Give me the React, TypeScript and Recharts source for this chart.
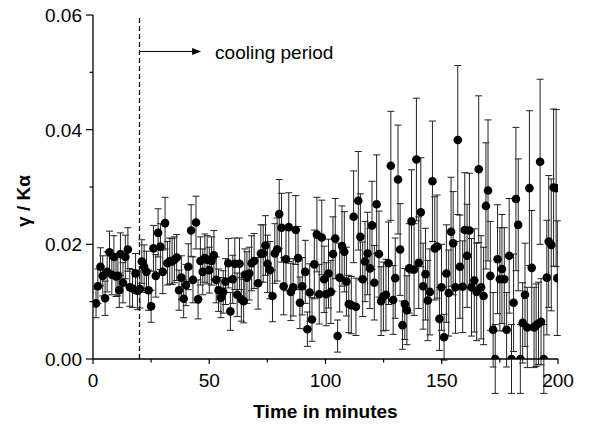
import React from 'react';
import { ScatterChart, Scatter, XAxis, YAxis, ErrorBar, ReferenceLine, ReferenceDot } from 'recharts';

const times = [
  1.3, 2.1, 3.2, 4.2, 5.2, 6.1, 7.1, 8.1, 9.0, 9.9, 10.7, 11.3, 11.8, 12.9, 13.9, 15, 15.8, 17, 18.3, 19.1,
  20.2, 21, 22, 23, 23.9, 25, 26, 27, 28, 29, 30, 31, 32, 33, 34, 35, 36, 37, 38, 39,
  40, 41, 42.2, 43, 44.3, 45.2, 46.2, 47.2, 48.1, 49.1, 50, 51, 52, 53, 54, 55, 56, 57, 58.2, 59.1,
  60.1, 61, 62, 63, 63.8, 64.8, 65.3, 66.2, 67.2, 68.2, 69.3, 71, 72.2, 73.2, 74.2, 75.1, 76.1, 77.2, 78.2, 79.2,
  80.1, 81.1, 82, 83, 84.2, 85.1, 86.1, 87.2, 88.2, 89, 90, 91.3, 92.2, 93.2, 94.2, 95.2, 96.3, 97.3, 98.4, 99.4,
  100.3, 101.3, 102.3, 103.2, 104.2, 105.2, 106.1, 107.1, 108.1, 109, 110, 111.1, 112.1, 113.1, 114.1, 115, 116, 117, 118.1, 119.1,
  120, 121, 122, 123, 123.9, 124.9, 126, 127.1, 128.1, 129.1, 130, 131.2, 132.1, 133.1, 134.1, 135, 136, 137, 138.1, 139.1,
  140.1, 141, 142, 143, 144, 144.9, 146, 147, 148, 149, 149.9, 151, 152, 153, 154, 154.9, 155.9, 156.9, 157.8, 159,
  159.9, 160.9, 161.9, 162.8, 164, 165, 165.9, 166.9, 168, 169, 169.9, 170.9, 172.1, 173, 174, 175, 175.9, 176.9, 177.9, 179,
  180, 180.9, 181.9, 182.9, 183.8, 184.8, 185.8, 186.8, 187.7, 188.7, 189.7, 190.6, 191.6, 192.3, 192.7, 193.9, 195.2, 196, 197.1, 198.1,
  199.2, 199.7,
];

const values = [
  0.0097, 0.0127, 0.0161, 0.0145, 0.0106, 0.0152, 0.0186, 0.0147, 0.0178, 0.0144, 0.0145, 0.012, 0.0183, 0.0133, 0.0178, 0.0191, 0.0125, 0.0123, 0.0149, 0.0119,
  0.0122, 0.017, 0.0161, 0.0152, 0.012, 0.0092, 0.0193, 0.0145, 0.022, 0.0196, 0.0152, 0.0237, 0.0167, 0.0171, 0.017, 0.0173, 0.0177, 0.012, 0.0142, 0.0105,
  0.0129, 0.0161, 0.0224, 0.0138, 0.0238, 0.0104, 0.0171, 0.0152, 0.0176, 0.0173, 0.0155, 0.0171, 0.0181, 0.0138, 0.012, 0.0107, 0.0117, 0.0135, 0.0167, 0.0083,
  0.0139, 0.0166, 0.0112, 0.0166, 0.0104, 0.0101, 0.0147, 0.0142, 0.0149, 0.0167, 0.0171, 0.0132, 0.0184, 0.0184, 0.0198, 0.0166, 0.0155, 0.011, 0.0184, 0.0191,
  0.0253, 0.0229, 0.0127, 0.0174, 0.023, 0.0117, 0.0125, 0.0225, 0.0176, 0.0098, 0.0127, 0.0152, 0.0052, 0.0116, 0.0069, 0.0165, 0.0217, 0.0113, 0.0212, 0.0139,
  0.0113, 0.0149, 0.0117, 0.0183, 0.021, 0.004, 0.0142, 0.0197, 0.0187, 0.0135, 0.0096, 0.0094, 0.0248, 0.0091, 0.0276, 0.0213, 0.0139, 0.017, 0.0184, 0.0158,
  0.0233, 0.0133, 0.027, 0.0183, 0.0101, 0.0109, 0.0112, 0.0167, 0.0337, 0.0103, 0.0141, 0.0313, 0.0191, 0.0059, 0.0096, 0.0085, 0.0158, 0.024, 0.0156, 0.0348,
  0.0168, 0.0256, 0.0127, 0.0148, 0.0102, 0.0117, 0.031, 0.0193, 0.0196, 0.007, 0.0125, 0.0038, 0.0149, 0.0115, 0.0222, 0.0202, 0.0125, 0.0382, 0.0161, 0.0126,
  0.0225, 0.018, 0.0224, 0.0125, 0.0137, 0.0117, 0.0331, 0.0125, 0.011, 0.0267, 0.0294, 0.0145, 0.0051, 0.0, 0.0174, 0.0139, 0.0157, 0.0139, 0.0051, 0.018,
  0.0, 0.0098, 0.0279, 0.0234, 0.0, 0.0063, 0.0112, 0.0055, 0.0298, 0.0159, 0.0055, 0.0059, 0.0062, 0.0344, 0.0065, 0.0, 0.0142, 0.0205, 0.0199, 0.0299,
  0.0298, 0.0141,
];

const errors = [
  0.0025, 0.003, 0.0033, 0.0035, 0.003, 0.0035, 0.0037, 0.0035, 0.0037, 0.0035, 0.0035, 0.003, 0.0037, 0.0035, 0.0038, 0.0038, 0.0033, 0.0033, 0.0035, 0.0033,
  0.0033, 0.0038, 0.0038, 0.0036, 0.0035, 0.0028, 0.004, 0.0037, 0.0042, 0.004, 0.0038, 0.0045, 0.0038, 0.004, 0.004, 0.004, 0.004, 0.0035, 0.0038, 0.0033,
  0.0036, 0.004, 0.0045, 0.004, 0.0046, 0.0034, 0.0042, 0.004, 0.0042, 0.0042, 0.004, 0.0042, 0.0043, 0.004, 0.0037, 0.0035, 0.0037, 0.004, 0.0043, 0.0033,
  0.0042, 0.0045, 0.0038, 0.0045, 0.0038, 0.0038, 0.0045, 0.0045, 0.0046, 0.0048, 0.0048, 0.0045, 0.005, 0.005, 0.0052, 0.005, 0.005, 0.0045, 0.0052, 0.0055,
  0.006, 0.006, 0.005, 0.0055, 0.006, 0.005, 0.005, 0.006, 0.0055, 0.0045, 0.005, 0.0055, 0.003, 0.005, 0.0038, 0.006, 0.0065, 0.0052, 0.0065, 0.0058,
  0.0055, 0.006, 0.0055, 0.0065, 0.007, 0.0028, 0.006, 0.007, 0.007, 0.006, 0.005, 0.005, 0.008, 0.005, 0.0086, 0.0075, 0.0065, 0.007, 0.0072, 0.007,
  0.0077, 0.0065, 0.0086, 0.0075, 0.006, 0.006, 0.0062, 0.0072, 0.0095, 0.006, 0.007, 0.0095, 0.008, 0.0042, 0.0062, 0.006, 0.0078, 0.009, 0.008, 0.0107,
  0.008, 0.0095, 0.0075, 0.008, 0.007, 0.0075, 0.0105, 0.009, 0.009, 0.0055, 0.0075, 0.004, 0.0085, 0.0075, 0.0095, 0.009, 0.008, 0.013, 0.009, 0.008,
  0.01, 0.009, 0.01, 0.0085, 0.009, 0.0085, 0.0128, 0.009, 0.0085, 0.011, 0.0123, 0.0095, 0.0065, 0.006, 0.0095, 0.009, 0.0095, 0.009, 0.0065, 0.01,
  0.006, 0.0085, 0.0125, 0.0115, 0.006, 0.007, 0.009, 0.007, 0.0135, 0.01, 0.007, 0.0072, 0.0072, 0.0144, 0.0075, 0.006, 0.01, 0.0115, 0.0115, 0.0137,
  0.0137, 0.01,
];

const xTicks = [0, 25, 50, 75, 100, 125, 150, 175, 200];
const xMajor = [0, 50, 100, 150, 200];
const yTicks = [0, 0.01, 0.02, 0.03, 0.04, 0.05, 0.06];
const yMajor = [0, 0.02, 0.04, 0.06];

const xLabel = 'Time in minutes';
const yLabel = 'γ / Kα';
const noteText = 'cooling period';
const coolingStart = 20;

const data = times.map((t, i) => ({ t, v: values[i], e: errors[i] }));

const FONT = '"Liberation Sans", Arial, Helvetica, sans-serif';
const isMajor = (list: number[], v: number) => list.some((m) => Math.abs(m - v) < 1e-9);

const BottomTick = (props: any) => {
  const { x, y, payload } = props;
  const major = isMajor(xMajor, payload.value);
  return (
    <g>
      <line x1={x} y1={y} x2={x} y2={y + (major ? 5 : 3.5)} stroke="#000" strokeWidth={1.2} />
      {major && (
        <text x={x} y={y + 28} textAnchor="middle" fontSize={19} fontFamily={FONT} fill="#000">
          {payload.value}
        </text>
      )}
    </g>
  );
};

const TopTick = (props: any) => {
  const { x, y, payload } = props;
  const major = isMajor(xMajor, payload.value);
  return <line x1={x} y1={y} x2={x} y2={y + (major ? 5 : 3.5)} stroke="#000" strokeWidth={1.2} />;
};

const LeftTick = (props: any) => {
  const { x, y, payload } = props;
  const major = isMajor(yMajor, payload.value);
  return (
    <g>
      <line x1={x} y1={y} x2={x - (major ? 7 : 3.5)} y2={y} stroke="#000" strokeWidth={1.2} />
      {major && (
        <text x={x - 11} y={y} dy="0.36em" textAnchor="end" fontSize={19} fontFamily={FONT} fill="#000">
          {payload.value.toFixed(2)}
        </text>
      )}
    </g>
  );
};

const RightTick = (props: any) => {
  const { x, y, payload } = props;
  const major = isMajor(yMajor, payload.value);
  return <line x1={x} y1={y} x2={x - (major ? 5 : 3.5)} y2={y} stroke="#000" strokeWidth={1.2} />;
};

const Dot = (props: any) => <circle cx={props.cx} cy={props.cy} r={4.3} fill="#000" />;

export default function App() {
  return (
    <div style={{ position: 'absolute', left: 0, top: 0, background: '#fff' }}>
      <ScatterChart width={589} height={425} margin={{ top: 15, right: 31, bottom: 0, left: 0 }}>
        <XAxis
          type="number"
          dataKey="t"
          domain={[0, 200]}
          ticks={xTicks}
          interval={0}
          allowDataOverflow
          height={66}
          tickSize={0}
          tickMargin={0}
          tickLine={false}
          axisLine={{ stroke: '#000', strokeWidth: 1.3 }}
          tick={BottomTick}
          label={{
            content: (p: any) => {
              const vb = p.viewBox;
              return (
                <text x={vb.x + vb.width / 2} y={vb.y + 59} textAnchor="middle" fontSize={19} fontWeight="bold" fontFamily={FONT} fill="#000">
                  {xLabel}
                </text>
              );
            },
          }}
        />
        <XAxis
          xAxisId="top"
          orientation="top"
          type="number"
          domain={[0, 200]}
          ticks={xTicks}
          interval={0}
          height={0}
          tickSize={0}
          tickMargin={0}
          tickLine={false}
          axisLine={{ stroke: '#000', strokeWidth: 1.3 }}
          tick={TopTick}
        />
        <YAxis
          type="number"
          dataKey="v"
          domain={[0, 0.06]}
          ticks={yTicks}
          interval={0}
          allowDataOverflow
          width={93}
          tickSize={0}
          tickMargin={0}
          tickLine={false}
          axisLine={{ stroke: '#000', strokeWidth: 1.3 }}
          tick={LeftTick}
          label={{
            content: (p: any) => {
              const vb = p.viewBox;
              const cx = vb.x + 23;
              const cy = vb.y + 186;
              return (
                <text x={cx} y={cy} dy="0.36em" textAnchor="middle" fontSize={19} fontWeight="bold" fontFamily={FONT} fill="#000" transform={`rotate(-90 ${cx} ${cy})`}>
                  {yLabel}
                </text>
              );
            },
          }}
        />
        <YAxis
          yAxisId="right"
          orientation="right"
          type="number"
          domain={[0, 0.06]}
          ticks={yTicks}
          interval={0}
          width={0}
          tickSize={0}
          tickMargin={0}
          tickLine={false}
          axisLine={{ stroke: '#000', strokeWidth: 1.3 }}
          tick={RightTick}
        />
        <ReferenceLine x={coolingStart} stroke="#000" strokeWidth={1.3} strokeDasharray="5 3" />
        <ReferenceLine
          segment={[
            { x: coolingStart, y: 0.05364 },
            { x: 44, y: 0.05364 },
          ]}
          stroke="#000"
          strokeWidth={1}
        />
        <ReferenceDot
          x={46.5}
          y={0.05364}
          shape={(p: any) => (
            <polygon points={`${p.cx},${p.cy} ${p.cx - 9},${p.cy - 3.5} ${p.cx - 9},${p.cy + 3.5}`} fill="#000" />
          )}
        />
        <ReferenceDot
          x={52.5}
          y={0.0523}
          shape={(p: any) => (
            <text x={p.cx} y={p.cy} fontSize={19} fontFamily={FONT} fill="#000">
              {noteText}
            </text>
          )}
        />
        <Scatter data={data} isAnimationActive={false} shape={Dot} fill="#000">
          <ErrorBar dataKey="e" direction="y" width={3.5} stroke="#222" strokeWidth={1} />
        </Scatter>
      </ScatterChart>
    </div>
  );
}
